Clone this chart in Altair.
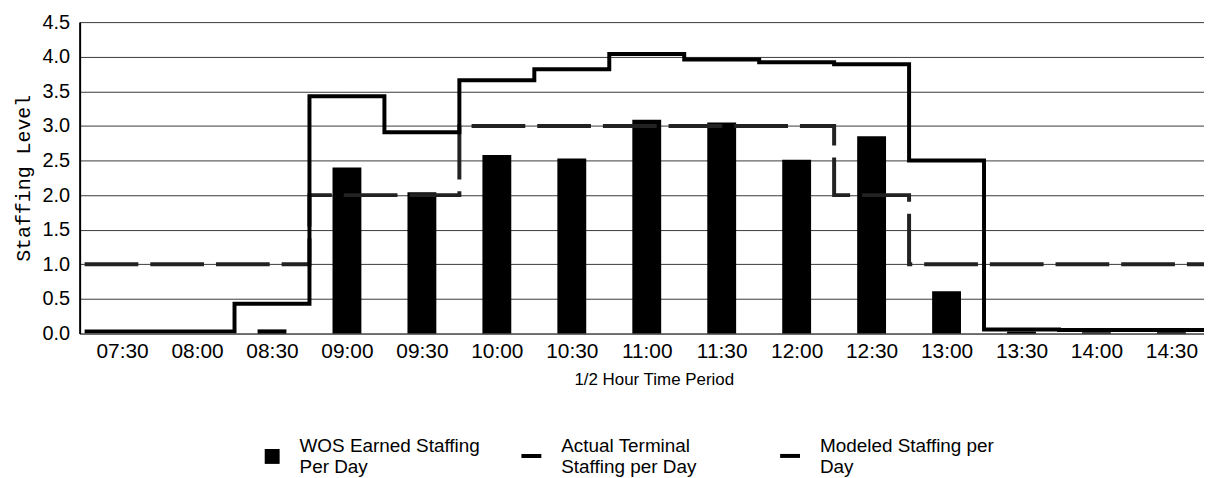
import altair as alt
import pandas as pd

times = ["07:30", "08:00", "08:30", "09:00", "09:30", "10:00", "10:30", "11:00",
         "11:30", "12:00", "12:30", "13:00", "13:30", "14:00", "14:30"]
wos_earned = [0.0, 0.0, 0.06, 2.40, 2.04, 2.58, 2.53, 3.09, 3.05, 2.51, 2.85, 0.61, 0.03, 0.02, 0.02]
actual_terminal = [0.03, 0.03, 0.43, 3.43, 2.91, 3.66, 3.82, 4.04, 3.96, 3.92, 3.89, 2.50, 0.06, 0.05, 0.05]
modeled = [1.0, 1.0, 1.0, 2.0, 2.0, 3.0, 3.0, 3.0, 3.0, 3.0, 2.0, 1.0, 1.0, 1.0, 1.0]
y_ticks = [0.0, 0.5, 1.0, 1.5, 2.0, 2.5, 3.0, 3.5, 4.0, 4.5]

WOS = "WOS Earned Staffing|Per Day"
ACT = "Actual Terminal|Staffing per Day"
MOD = "Modeled Staffing per|Day"

n = len(times)
bars_df = pd.DataFrame({"pos": [i + 0.5 for i in range(n)], "value": wos_earned, "series": WOS})


def step_df(vals, name):
    ext = vals + [vals[-1]]
    return pd.DataFrame({"pos": list(range(len(ext))), "value": ext, "series": name})


act_df = step_df(actual_terminal, ACT)
mod_df = step_df(modeled, MOD)

FONT = "Liberation Sans"
labels_js = "[" + ",".join("'" + t + "'" for t in times) + "]"

x_enc = alt.X(
    "pos:Q",
    scale=alt.Scale(domain=[0, 1130 / 76], nice=False, zero=False),
    axis=alt.Axis(
        values=[i + 0.5 for i in range(n)],
        labelExpr=labels_js + "[floor(datum.value)]",
        grid=False, ticks=False, labelPadding=7,
        labelFont=FONT, labelFontSize=21, labelColor="black",
        labelOverlap=False, labelFlush=False,
        domainColor="#444", domainWidth=1,
        title="1/2 Hour Time Period", titleFont=FONT, titleFontSize=17,
        titleFontWeight="normal", titleColor="black", titlePadding=10,
        titleX=577,
    ),
)
y_enc = alt.Y(
    "value:Q",
    scale=alt.Scale(domain=[0, 4.5], nice=False),
    axis=alt.Axis(
        values=y_ticks, format=".1f", grid=True, gridColor="#3a3a3a", gridWidth=1,
        ticks=False, domainColor="black", domainWidth=2, labelPadding=10,
        labelFont=FONT, labelFontSize=20, labelColor="black",
        title="Staffing Level", titleFont="Liberation Mono", titleFontSize=20,
        titleFontWeight="normal", titleColor="black", titlePadding=9,
    ),
)

bars = alt.Chart(bars_df).mark_bar(size=29, color="black").encode(
    x=x_enc, y=y_enc,
    color=alt.Color(
        "series:N",
        scale=alt.Scale(domain=[WOS], range=["black"]),
        legend=alt.Legend(
            orient="none", legendX=184, legendY=427, title=None,
            symbolType="square", symbolSize=225, symbolStrokeWidth=0,
            labelExpr="split(datum.label, '|')", labelFont=FONT, labelFontSize=19,
            labelColor="black", labelOffset=18, labelBaseline="bottom",
            padding=0, labelLimit=400,
        ),
    ),
)

dash_scale = alt.Scale(domain=[ACT, MOD], range=[[1, 0], [54, 12]])
dash_legend = alt.Legend(
    orient="none", legendX=442, legendY=424, title=None, direction="horizontal",
    columns=2, columnPadding=76, symbolType="stroke", symbolSize=400,
    symbolStrokeWidth=4, symbolStrokeColor="black",
    labelExpr="split(datum.label, '|')", labelFont=FONT, labelFontSize=19,
    labelColor="black", labelOffset=18, labelBaseline="bottom",
    padding=0, labelLimit=400,
)

mod_line = alt.Chart(mod_df).mark_line(
    interpolate="step-after", color="#222", strokeWidth=4, clip=True
).encode(
    x=x_enc, y=y_enc,
    strokeDash=alt.StrokeDash("series:N", scale=dash_scale, legend=dash_legend),
)

act_line = alt.Chart(act_df).mark_line(
    interpolate="step-after", color="black", strokeWidth=4, clip=True
).encode(
    x=x_enc, y=y_enc,
    strokeDash=alt.StrokeDash("series:N", scale=dash_scale, legend=dash_legend),
)

chart = alt.layer(bars, mod_line, act_line).properties(
    width=1130, height=313,
    padding={"left": 5, "top": 3, "right": 0, "bottom": 0},
    background="white",
).configure_view(stroke=None)

chart.save("out.html", embed_options={"renderer": "svg", "actions": False})
